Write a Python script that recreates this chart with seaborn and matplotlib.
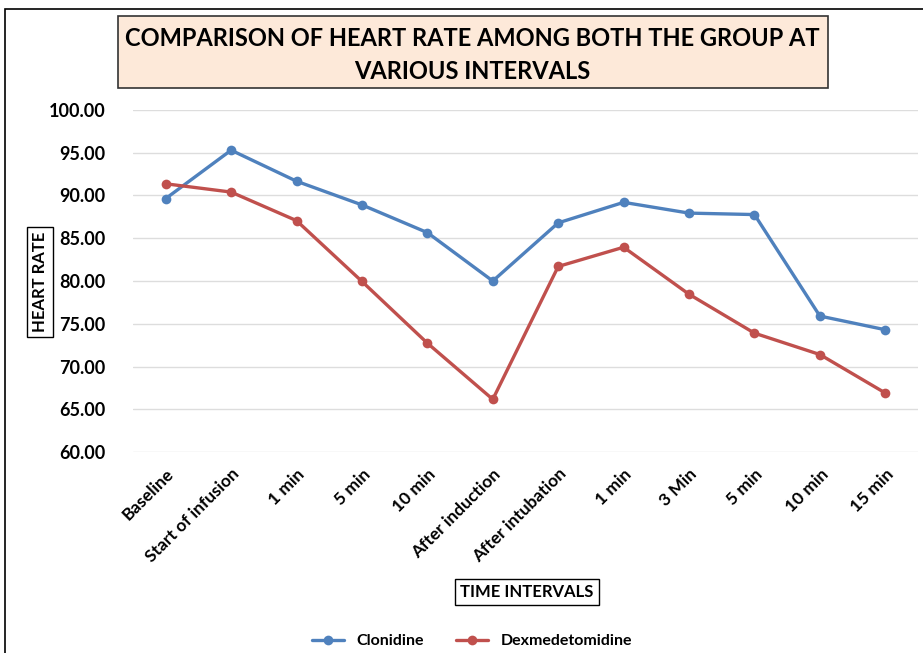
import matplotlib
matplotlib.use("Agg")
import matplotlib.pyplot as plt
from matplotlib.patches import Rectangle
import pandas as pd
import seaborn as sns

# Time points and mean heart rate per group
intervals = ["Baseline", "Start of infusion", "1 min", "5 min", "10 min",
             "After induction", "After intubation", "1 min ", "3 Min", "5 min ",
             "10 min ", "15 min"]
clonidine = [89.64, 95.30, 91.67, 88.90, 85.66, 80.00, 86.80, 89.20, 87.94, 87.77, 75.90, 74.30]
dexmedetomidine = [91.37, 90.40, 87.06, 79.95, 72.73, 66.16, 81.70, 83.95, 78.45, 73.90, 71.40, 66.90]
y_ticks = [60, 65, 70, 75, 80, 85, 90, 95, 100]

df = pd.DataFrame({
    "Interval": intervals * 2,
    "Heart rate": clonidine + dexmedetomidine,
    "Group": ["Clonidine"] * len(intervals) + ["Dexmedetomidine"] * len(intervals),
})

sns.set_theme(style="white")
plt.rcParams["font.family"] = ["Lato", "DejaVu Sans"]
plt.rcParams["text.color"] = "black"
plt.rcParams["xtick.color"] = "black"
plt.rcParams["ytick.color"] = "black"

W, H = 923, 653
fig = plt.figure(figsize=(W / 100, H / 100), dpi=100)
ax = fig.add_axes([133 / W, 1 - 452 / H, (918 - 133) / W, (452 - 110) / H])

palette = {"Clonidine": "#4F81BD", "Dexmedetomidine": "#C0504D"}
sns.lineplot(data=df, x="Interval", y="Heart rate", hue="Group", palette=palette,
             marker="o", markersize=7, markeredgewidth=0, linewidth=2.4,
             sort=False, ax=ax, legend=True)

ax.set_xlim(-0.5, len(intervals) - 0.5)
ax.set_ylim(60, 100)
ax.set_yticks(y_ticks)
ax.set_yticklabels([f"{v:.2f}" for v in y_ticks], fontsize=13, fontweight="bold")
ax.yaxis.grid(True, color="#DDDDDD", linewidth=1)
ax.xaxis.grid(False)
for s in ax.spines.values():
    s.set_visible(False)
ax.tick_params(axis="both", length=0)
ax.tick_params(axis="y", pad=20)
ax.set_xticks(range(len(intervals)))
ax.set_xticklabels([t.strip() for t in intervals], rotation=45, ha="right",
                   rotation_mode="anchor", fontsize=12.5, fontweight="bold")
ax.tick_params(axis="x", pad=10)
ax.set_xlabel("")
ax.set_ylabel("")

# Boxed axis titles
box = dict(boxstyle="square,pad=0.3", facecolor="white", edgecolor="black", linewidth=1)
fig.text(40 / W, 1 - 282 / H, "HEART RATE", rotation=90, ha="center", va="center",
         fontsize=12, fontweight="bold", bbox=box)
fig.text(527 / W, 1 - 592 / H, "TIME INTERVALS", ha="center", va="center",
         fontsize=12, fontweight="bold", bbox=box)

# Title in a shaded box
fig.patches.append(Rectangle((118 / W, 1 - 88 / H), (828 - 118) / W, (88 - 16) / H,
                             transform=fig.transFigure, facecolor="#FDE9D9",
                             edgecolor="#333333", linewidth=1.2))
fig.text(472 / W, 1 - 55 / H, "COMPARISON OF HEART RATE AMONG BOTH THE GROUP AT\nVARIOUS INTERVALS",
         ha="center", va="center", fontsize=17, fontweight="bold", linespacing=1.5)

# Outer frame
fig.patches.append(Rectangle((5 / W, -0.05), 1.1, 1 - 9 / H + 0.05,
                             transform=fig.transFigure, facecolor="none",
                             edgecolor="black", linewidth=1.2))

handles, labels = ax.get_legend_handles_labels()
ax.legend_.remove()
fig.legend(handles, labels, loc="center", bbox_to_anchor=(472 / W, 1 - 641 / H),
           ncol=2, frameon=False, handlelength=2.0, columnspacing=2.0,
           prop={"weight": "bold", "size": 11.5})

fig.savefig("out.png", dpi=100)
